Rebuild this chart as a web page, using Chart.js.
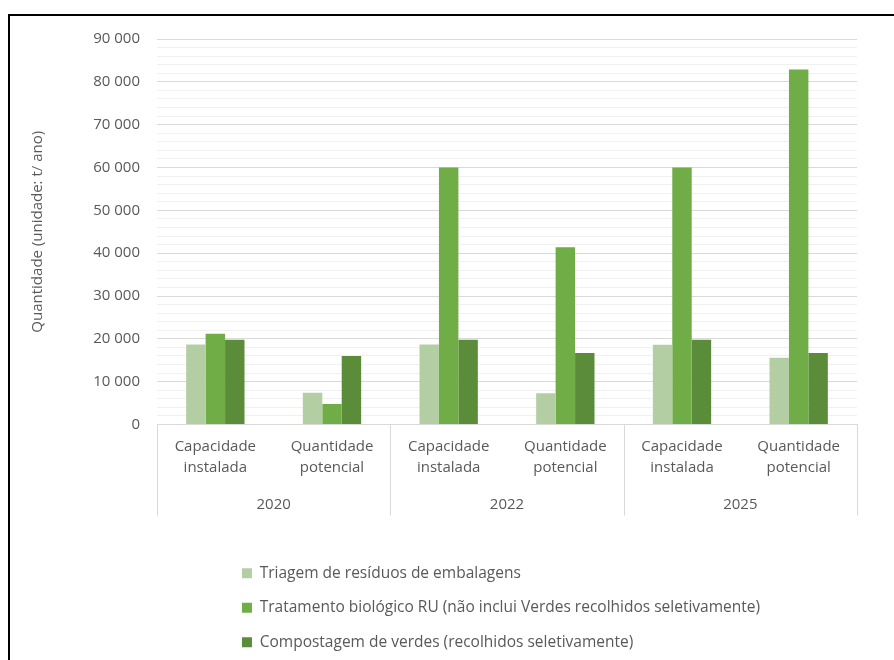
<!DOCTYPE html>
<html>
<head>
<meta charset="utf-8">
<script src="https://cdn.jsdelivr.net/npm/chart.js@4.4.1/dist/chart.umd.min.js"></script>
<style>
  html, body { margin: 0; padding: 0; background: #fff; }
  #wrap { position: relative; width: 894px; height: 660px; overflow: hidden; }
  #frame { position: absolute; left: 8px; top: 14px; width: 1000px; height: 800px;
           border-top: 2px solid #000; border-left: 2px solid #000; }
  canvas { position: absolute; left: 0; top: 0; }
</style>
</head>
<body>
<div id="wrap">
  <div id="frame"></div>
  <canvas id="chartCanvas" width="894" height="660"></canvas>
</div>
<script>
// categories
var years = ['2020', '2022', '2025'];
var subLabels = [['Capacidade', 'instalada'], ['Quantidade', 'potencial']];
var categories = [];
for (var y = 0; y < years.length; y++) {
	for (var s = 0; s < subLabels.length; s++) categories.push(subLabels[s]);
}

// series (t/ano)
var triagem = [18700, 7400, 18700, 7300, 18600, 15600];
var tratamento = [21200, 4800, 60000, 41400, 60000, 82900];
var compostagem = [19800, 16000, 19800, 16700, 19800, 16700];

var seriesNames = [
	'Triagem de resíduos de embalagens',
	'Tratamento biológico RU (não inclui Verdes recolhidos seletivamente)',
	'Compostagem de verdes (recolhidos seletivamente)'
];

var textColor = '#595959';
var fontFamily = '"Open Sans", sans-serif';

function fmt(v) {
	return String(v).replace(/\B(?=(\d{3})+(?!\d))/g, ' ');
}

// vertical separators between the year groups
var groupLines = {
	id: 'groupLines',
	afterDraw: function(chart) {
		var x = chart.scales.x, x2 = chart.scales.x2, ctx = chart.ctx;
		var bottom = x2.top + 25;
		ctx.save();
		ctx.strokeStyle = '#d9d9d9';
		ctx.lineWidth = 1;
		for (var i = 0; i <= years.length; i++) {
			var px = Math.round(x2.getPixelForValue(i - 0.5)) + 0.5;
			ctx.beginPath();
			ctx.moveTo(px, x.top);
			ctx.lineTo(px, bottom);
			ctx.stroke();
		}
		ctx.restore();
	}
};

// legend block roughly centred under the plot, rows left aligned
var legendShift = {
	id: 'legendShift',
	afterLayout: function(chart) {
		var lg = chart.legend;
		var widest = Math.max.apply(null, lg.lineWidths);
		var pad = lg.options.labels.padding;
		var ca = chart.chartArea;
		var left = (ca.left + ca.right) / 2 - widest / 2 - pad / 2 - 6;
		var w = lg.right - lg.left;
		lg.left = left;
		lg.right = left + w;
	}
};

var ctx = document.getElementById('chartCanvas');
var chart = new Chart(ctx, {
	type: 'bar',
	data: {
		labels: categories,
		datasets: [
			{ label: seriesNames[0], data: triagem, backgroundColor: '#b4cea4' },
			{ label: seriesNames[1], data: tratamento, backgroundColor: '#70ad47' },
			{ label: seriesNames[2], data: compostagem, backgroundColor: '#5a8c39' }
		]
	},
	options: {
		responsive: false,
		animation: false,
		devicePixelRatio: 1,
		categoryPercentage: 0.5,
		barPercentage: 1.0,
		layout: { padding: { left: 20, right: 37, top: 39, bottom: 0 } },
		font: { family: fontFamily, size: 15 },
		plugins: {
			tooltip: { enabled: false },
			legend: {
				position: 'bottom',
				align: 'start',
				fullSize: false,
				labels: {
					color: textColor,
					font: { family: fontFamily, size: 15.5 },
					boxWidth: 10,
					boxHeight: 10,
					padding: 19
				}
			}
		},
		scales: {
			x: {
				weight: 0,
				grid: { display: false, drawTicks: false },
				border: { display: true, color: '#d9d9d9' },
				afterFit: function(scale) { scale.height = 66; },
				ticks: {
					color: textColor,
					font: { family: fontFamily, size: 15, lineHeight: 1.45 },
					autoSkip: false,
					maxRotation: 0,
					padding: 11
				}
			},
			x2: {
				type: 'category',
				position: 'bottom',
				weight: 1,
				offset: true,
				labels: years,
				grid: { display: false, drawTicks: false },
				border: { display: false },
				afterFit: function(scale) { scale.height = 56; },
				ticks: {
					color: textColor,
					font: { family: fontFamily, size: 15 },
					padding: 5
				}
			},
			y: {
				min: 0,
				max: 90000,
				afterFit: function(scale) { scale.width = 137; },
				border: { display: false },
				grid: {
					drawTicks: false,
					color: function(c) {
						return c.tick && c.tick.value % 10000 === 0 ? '#d9d9d9' : '#f0f0f0';
					}
				},
				ticks: {
					stepSize: 2000,
					autoSkip: false,
					color: textColor,
					font: { family: fontFamily, size: 15 },
					padding: 17,
					callback: function(v) { return v % 10000 === 0 ? fmt(v) : ''; }
				},
				title: {
					display: true,
					text: 'Quantidade (unidade: t/ ano)',
					color: textColor,
					font: { family: fontFamily, size: 15 },
					padding: { top: 9, bottom: 0 }
				}
			}
		}
	},
	plugins: [groupLines, legendShift]
});
</script>
</body>
</html>
